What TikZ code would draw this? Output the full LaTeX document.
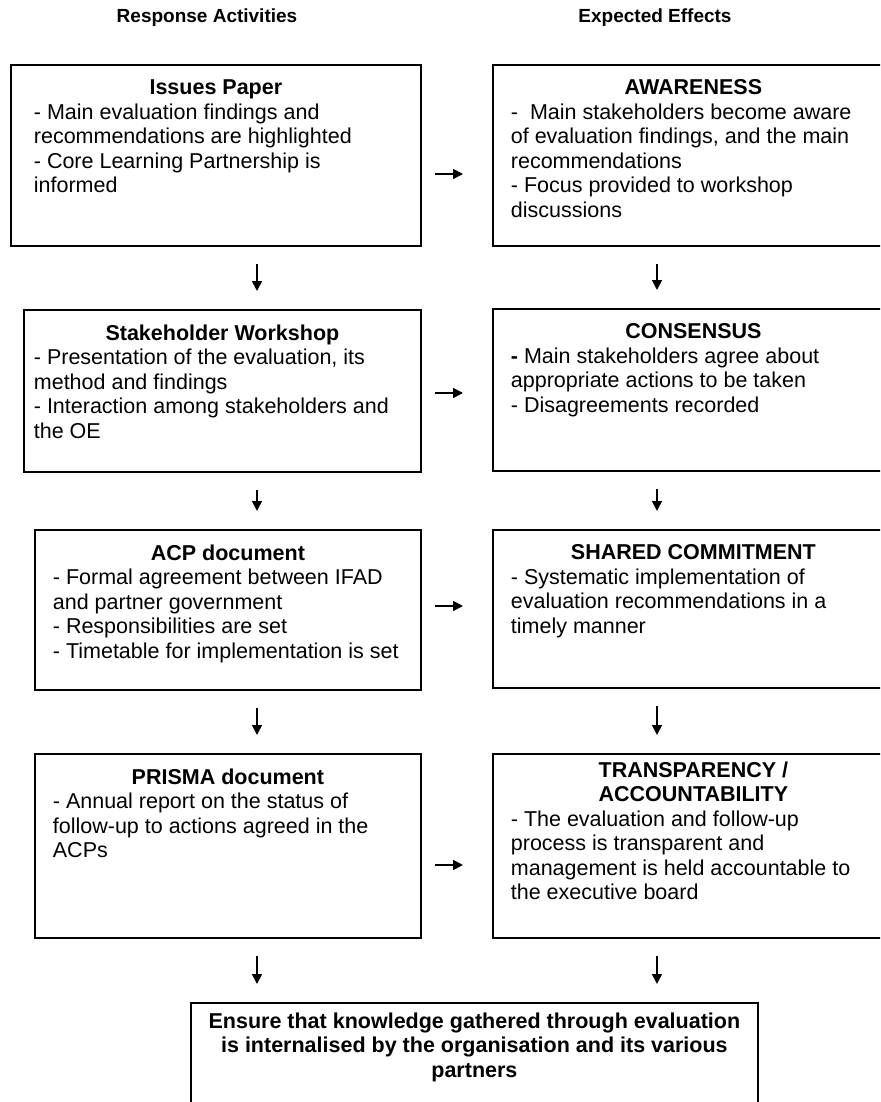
\documentclass[tikz,border=0pt]{standalone}
\usepackage{fontspec}
\setmainfont{Liberation Sans}
\usetikzlibrary{arrows.meta,positioning}
% [topskip]{indent}{width}{height}{title}{body}
\newcommand*{\panel}[6][15pt]{%
  \parbox[c][#4][t]{#3}{\vspace*{#1}\centering\textbf{#5}\par
    \raggedright\leftskip=#2\relax #6\par}}

\begin{document}
\begin{tikzpicture}[x=1pt, y=-1pt]
  \useasboundingbox (0,0) rectangle (880,1102);
  \clip (0,0) rectangle (880,1102);
  \tikzstyle{every node}=[font=\fontsize{21.5}{24.5}\selectfont]
  \tikzstyle{box}=[draw, line width=1.8pt, inner sep=0pt, anchor=north west]
  \tikzstyle{head}=[font=\fontsize{19}{22}\selectfont\bfseries]
  \tikzstyle{arr}=[line width=1.7pt, -{Triangle[length=10pt,width=10pt]}]

  \node[head] (resp) at (207,18) {Response Activities};
  \node[head] (eff) at (655,18) {Expected Effects};

  % response activities
  \node[box] (ip) at (10,64) {\panel{23pt}{410pt}{181pt}{Issues Paper}{%
    - Main evaluation findings and\\ recommendations are highlighted\\
    - Core Learning Partnership is\\ informed}};
  \node[box] (sw) at (23,309) {\panel{10pt}{397pt}{162pt}{Stakeholder Workshop}{%
    - Presentation of the evaluation, its\\ method and findings\\
    - Interaction among stakeholders and\\ the OE}};
  \node[box] (acp) at (34,529) {\panel{18pt}{386pt}{160pt}{ACP document}{%
    - Formal agreement between IFAD\\ and partner government\\
    - Responsibilities are set\\ - Timetable for implementation is set}};
  \node[box] (pr) at (34,753) {\panel{18pt}{386pt}{184pt}{PRISMA document}{%
    - Annual report on the status of\\ follow-up to actions agreed in the\\ ACPs}};

  % expected effects
  \node[box] (aw) at (492,64) {\panel{18pt}{401pt}{181pt}{AWARENESS}{%
    - \ Main stakeholders become aware\\ of evaluation findings, and the main\\
    recommendations\\ - Focus provided to workshop\\ discussions}};
  \node[box] (co) at (492,308) {\panel{18pt}{401pt}{162pt}{CONSENSUS}{%
    \textbf{-} Main stakeholders agree about\\ appropriate actions to be taken\\
    - Disagreements recorded}};
  \node[box] (sc) at (492,529) {\panel{18pt}{401pt}{158pt}{SHARED COMMITMENT}{%
    - Systematic implementation of\\ evaluation recommendations in a\\ timely manner}};
  \node[box] (tr) at (492,753) {\panel[8pt]{18pt}{401pt}{184pt}{TRANSPARENCY /\\ ACCOUNTABILITY}{%
    - The evaluation and follow-up\\ process is transparent and\\
    management is held accountable to\\ the executive board}};

  \node[box] (goal) at (190,1002) {\panel[10pt]{0pt}{567pt}{140pt}{%
    Ensure that knowledge gathered through evaluation\\
    is internalised by the organisation and its various\\ partners}{}};

  \foreach \a/\b/\y in {ip/aw/174, sw/co/393, acp/sc/606, pr/tr/865}
    \draw[arr, shorten <=13pt, shorten >=29pt] (\a.east |- 0,\y) -- (\b.west |- 0,\y);

  \foreach \a/\b/\x in {ip/sw/257, sw/acp/257, acp/pr/257, pr/goal/257,
                        aw/co/657, co/sc/657, sc/tr/657, tr/goal/657}
    \draw[arr, shorten <=17pt, shorten >=18pt] (\a.south -| \x,0) -- (\b.north -| \x,0);
\end{tikzpicture}
\end{document}
